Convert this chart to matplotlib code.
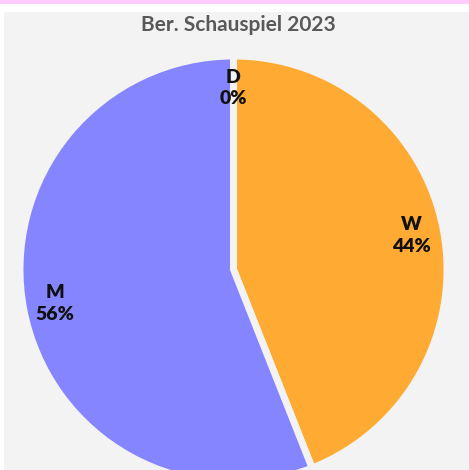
import numpy as np
import matplotlib
matplotlib.use("Agg")
import matplotlib.pyplot as plt
from matplotlib.patches import Rectangle

# data
labels = ["D", "W", "M"]
values = [0, 44, 56]
colors = ["#A0A0A0", "#FFAA33", "#8585FF"]
title = "Ber. Schauspiel 2023"

W, H = 469, 470
bg = "#F3F3F3"
fig = plt.figure(figsize=(W / 100, H / 100), dpi=100, facecolor="white")

# pink strip on top + grey panel
fig.patches.append(Rectangle((0, 1 - 4 / H), 1, 4 / H, transform=fig.transFigure,
                             facecolor="#FFCCFF", edgecolor="none", zorder=-5))
fig.patches.append(Rectangle((4 / W, 0), 1 - 4 / W, 1 - 12 / H, transform=fig.transFigure,
                             facecolor=bg, edgecolor="none", zorder=-5))

fig.text(238 / W, 1 - 25 / H, title, ha="center", va="center", fontsize=15,
         fontweight="bold", color="#595959", family="Lato")

# pie axes, placed in pixels
cx, cy, r = 233.5, 269.5, 213.5
ax = fig.add_axes([(cx - r) / W, (H - cy - r) / H, 2 * r / W, 2 * r / H])
ax.patch.set_visible(False)

wedges, _ = ax.pie(values, colors=colors, startangle=90, counterclock=False, radius=1,
                   wedgeprops=dict(edgecolor=bg, linewidth=5))
for w in wedges:
    w.set_clip_on(False)
ax.set_xlim(-1, 1)
ax.set_ylim(-1, 1)
ax.set_aspect("equal")
ax.axis("off")

total = sum(values)
start = 90.0
for lab, v in zip(labels, values):
    frac = v / total
    mid = np.deg2rad(start - frac * 180)
    start -= frac * 360
    ax.text(0.85 * np.cos(mid), 0.85 * np.sin(mid), f"{lab}\n{round(frac * 100)}%",
            ha="center", va="center", fontsize=14, fontweight="heavy", family="Lato",
            linespacing=1.35, color="#111111")

fig.savefig("out.png", dpi=100, facecolor=fig.get_facecolor())
